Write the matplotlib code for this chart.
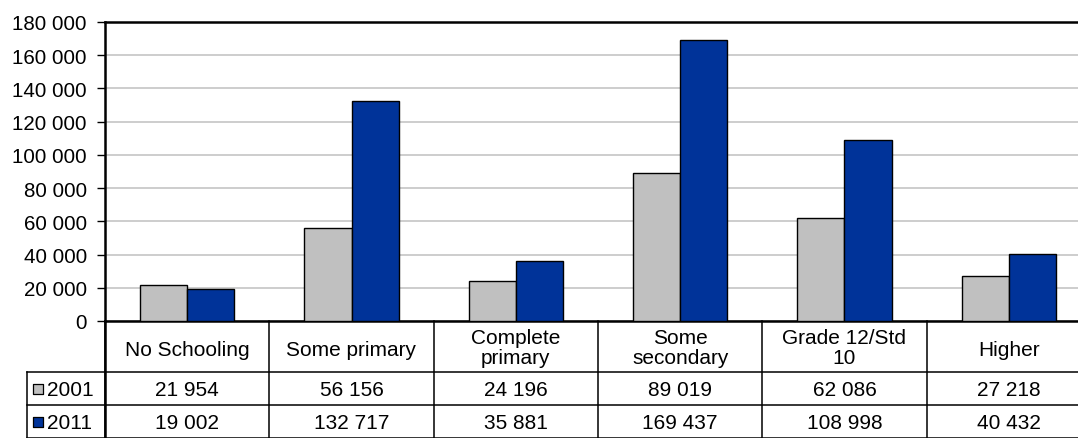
import numpy as np
import matplotlib.pyplot as plt

plt.rcParams['font.family'] = ['Liberation Sans', 'DejaVu Sans']
plt.rcParams['font.size'] = 15

categories = ['No Schooling', 'Some primary', 'Complete\nprimary',
              'Some\nsecondary', 'Grade 12/Std\n10', 'Higher']
years = ['2001', '2011']
values_2001 = [21954, 56156, 24196, 89019, 62086, 27218]
values_2011 = [19002, 132717, 35881, 169437, 108998, 40432]
colors = ['#c0c0c0', '#003399']

W, H = 1078, 439
fig = plt.figure(figsize=(W / 100, H / 100), dpi=100)

# plot area in pixels (right edge runs past the image, as in the reference)
x0, x1 = 105, 1091
y_top, y_zero = 23, 322
ax = fig.add_axes([x0 / W, (H - y_zero) / H, (x1 - x0) / W, (y_zero - y_top) / H])

x = np.arange(len(categories))
bw = 0.288
ax.bar(x - bw / 2, values_2001, bw, color=colors[0], edgecolor='black', linewidth=1, zorder=3)
ax.bar(x + bw / 2, values_2011, bw, color=colors[1], edgecolor='black', linewidth=1, zorder=3)

ax.set_xlim(-0.5, len(categories) - 0.5)
ax.set_ylim(0, 180000)
yt = np.arange(0, 180001, 20000)
ax.set_yticks(yt)
ax.set_yticklabels([f'{v:,}'.replace(',', ' ') for v in yt], fontsize=14.8)
ax.tick_params(axis='y', length=6, width=1, pad=7, direction='out')
ax.set_xticks([])
ax.grid(True, axis='y', color='#c0c0c0', linewidth=1.1, zorder=0)
for s in ['top', 'left', 'bottom']:
    ax.spines[s].set_linewidth(1.8)
    ax.spines[s].set_color('black')
ax.spines['right'].set_visible(False)

# data table below the plot, in pixel-like row units
tab = fig.add_axes([x0 / W, 0, (x1 - x0) / W, (H - y_zero) / H])
tab.set_xlim(-0.5, len(categories) - 0.5)
tab.set_ylim(H - y_zero, 0)
tab.axis('off')

leg_left = -0.5 - 78 / 164
hdr, r1, r2 = 51, 84, 117
lk = dict(color='black', linewidth=1.1, clip_on=False)
for b in np.arange(-0.5, len(categories) + 0.5):
    tab.plot([b, b], [0, r2], **lk)
tab.plot([-0.5, -0.5], [0, r2], color='black', linewidth=1.8, clip_on=False)
tab.plot([leg_left, leg_left], [hdr, r2], **lk)
for yy in [hdr, r1, r2]:
    tab.plot([leg_left, len(categories) - 0.5], [yy, yy], **lk)

for i, c in enumerate(categories):
    dy = 3 if '\n' not in c else 1
    tab.text(i, hdr / 2 + dy, c, ha='center', va='center', linespacing=1.12)
    tab.text(i, (hdr + r1) / 2 + 1, f'{values_2001[i]:,}'.replace(',', ' '), ha='center', va='center')
    tab.text(i, (r1 + r2) / 2 + 1, f'{values_2011[i]:,}'.replace(',', ' '), ha='center', va='center')

for j, (yr, col) in enumerate(zip(years, colors)):
    yc = (hdr + r1) / 2 + j * 33
    tab.scatter([leg_left + 0.07], [yc], marker='s', s=50, color=col,
                edgecolor='black', linewidth=0.9, clip_on=False)
    tab.text(leg_left + 0.125, yc + 1, yr, ha='left', va='center')

fig.savefig('out.png', dpi=100)
